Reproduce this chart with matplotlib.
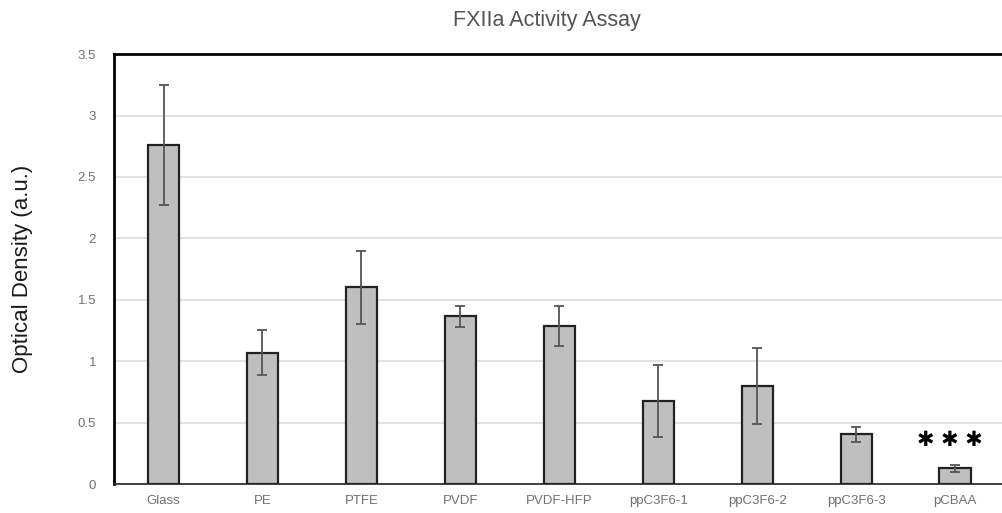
import matplotlib
matplotlib.use("Agg")
import matplotlib.pyplot as plt

# data
categories = ["Glass", "PE", "PTFE", "PVDF", "PVDF-HFP",
              "ppC3F6-1", "ppC3F6-2", "ppC3F6-3", "pCBAA"]
od_means = [2.76, 1.07, 1.60, 1.365, 1.285, 0.675, 0.795, 0.405, 0.128]
od_errors = [0.49, 0.185, 0.30, 0.085, 0.165, 0.29, 0.31, 0.06, 0.03]
yticks = [0, 0.5, 1, 1.5, 2, 2.5, 3, 3.5]
ytick_labels = ["0", "0.5", "1", "1.5", "2", "2.5", "3", "3.5"]

plt.rcParams["font.family"] = ["Liberation Sans", "DejaVu Sans"]

fig = plt.figure(figsize=(10.02, 5.13), dpi=100)
ax = fig.add_axes([0.1138, 0.0565, 0.889, 0.838])

x = list(range(len(categories)))
ax.bar(x, od_means, width=0.32, color="#bfbfbf", edgecolor="#222222",
       linewidth=1.6, zorder=3)
ax.errorbar(x, od_means, yerr=od_errors, fmt="none", ecolor="#555555",
            elinewidth=1.3, capsize=3.5, capthick=1.3, zorder=4)

# significance marker over pCBAA
ax.text(8 - 0.06, 0.36, "\u2731 \u2731 \u2731", ha="center",
        va="center", fontsize=15, color="black", family="DejaVu Sans")

ax.set_xlim(-0.5, 8.5)
ax.set_ylim(0, 3.5)
ax.set_yticks(yticks)
ax.set_yticklabels(ytick_labels)
ax.set_xticks(x)
ax.set_xticklabels(categories)
ax.tick_params(axis="both", length=0, labelsize=9.5, labelcolor="#707070")
ax.tick_params(axis="y", pad=13)
ax.tick_params(axis="x", pad=8)

ax.grid(axis="y", color="#dddddd", linewidth=1.2, zorder=0)
ax.set_axisbelow(True)
for side in ["left", "top"]:
    ax.spines[side].set_linewidth(2)
    ax.spines[side].set_color("black")
ax.spines["bottom"].set_linewidth(1.3)
ax.spines["bottom"].set_color("#333333")
ax.spines["right"].set_visible(False)

ax.set_ylabel("Optical Density (a.u.)", fontsize=16, color="#1a1a1a",
              labelpad=32)
fig.text(0.546, 0.96, "FXIIa Activity Assay", ha="center", va="center",
         fontsize=15.5, color="#555555")

fig.savefig("out.png", dpi=100)
